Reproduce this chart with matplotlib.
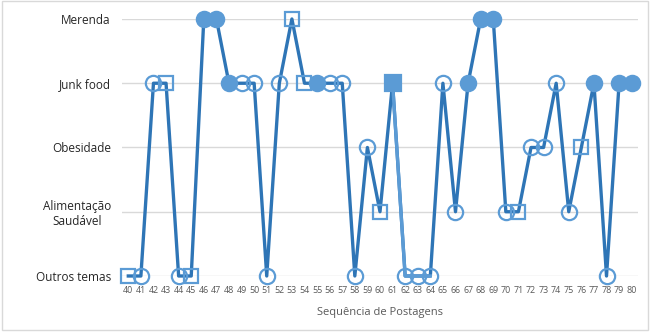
import numpy as np
import matplotlib.pyplot as plt
from matplotlib.patches import Rectangle

plt.rcParams['font.family'] = ['Open Sans', 'DejaVu Sans']

categorias = ['Outros temas', 'Alimentação\nSaudável', 'Obesidade', 'Junk food', 'Merenda']

postagens = list(range(40, 81))
tema = [0, 0, 3, 3, 0, 0, 4, 4, 3, 3,
        3, 0, 3, 4, 3, 3, 3, 3, 0, 2,
        1, 3, 0, 0, 0, 3, 1, 3, 4, 4,
        1, 1, 2, 2, 3, 1, 2, 3, 0, 3, 3]
# marcador: oc = circulo aberto, os = quadrado aberto, fc = circulo cheio, fs = quadrado cheio
marcador = ['os', 'oc', 'oc', 'os', 'oc', 'os', 'fc', 'fc', 'fc', 'oc',
            'oc', 'oc', 'oc', 'os', 'os', 'fc', 'oc', 'oc', 'oc', 'oc',
            'os', 'fs', 'oc', 'oc', 'oc', 'oc', 'oc', 'fc', 'fc', 'fc',
            'oc', 'os', 'oc', 'oc', 'oc', 'oc', 'os', 'fc', 'oc', 'fc', 'fc']
trecho_claro = (61, 64)

escuro = '#2E75B6'
claro = '#5B9BD5'

fig = plt.figure(figsize=(6.5, 3.36), dpi=100)
ax = fig.add_axes([0.1877, 0.1786, 0.7938, 0.7649])

x = np.array(postagens)
y = np.array(tema)
ax.plot(x, y, color=escuro, lw=2.4, zorder=2, clip_on=False)
m = (x >= trecho_claro[0]) & (x <= trecho_claro[1])
ax.plot(x[m], y[m], color=claro, lw=2.4, zorder=2.5, clip_on=False)

for xi, yi, mk in zip(x, y, marcador):
    forma = 'o' if mk[1] == 'c' else 's'
    face = claro if mk[0] == 'f' else 'none'
    ms = 11 if forma == 'o' else 10
    if mk == 'fs':
        ms = 11.5
    ax.plot(xi, yi, marker=forma, ms=ms, mfc=face, mec=claro, mew=1.6,
            zorder=3, clip_on=False)

ax.set_xlim(39.5, 80.5)
ax.set_ylim(0, 4)
ax.set_xticks(postagens)
ax.set_xticklabels([str(p) for p in postagens], fontsize=6.4, color='#595959')
ax.set_yticks(range(len(categorias)))
ax.set_yticklabels(categorias, fontsize=8.5, color='#262626', ha='right',
                   multialignment='center')
ax.tick_params(axis='both', length=0, pad=8)
ax.tick_params(axis='x', pad=7)
ax.grid(axis='y', color='#D9D9D9', lw=1)
ax.set_axisbelow(True)
for s in ax.spines.values():
    s.set_visible(False)
ax.set_xlabel('Sequência de Postagens', fontsize=8, color='#595959', labelpad=9)

fig.patches.append(Rectangle((0.003, 0.018), 0.994, 0.978, transform=fig.transFigure,
                             fill=False, ec='#D9D9D9', lw=1))

fig.savefig('out.png', dpi=100)
